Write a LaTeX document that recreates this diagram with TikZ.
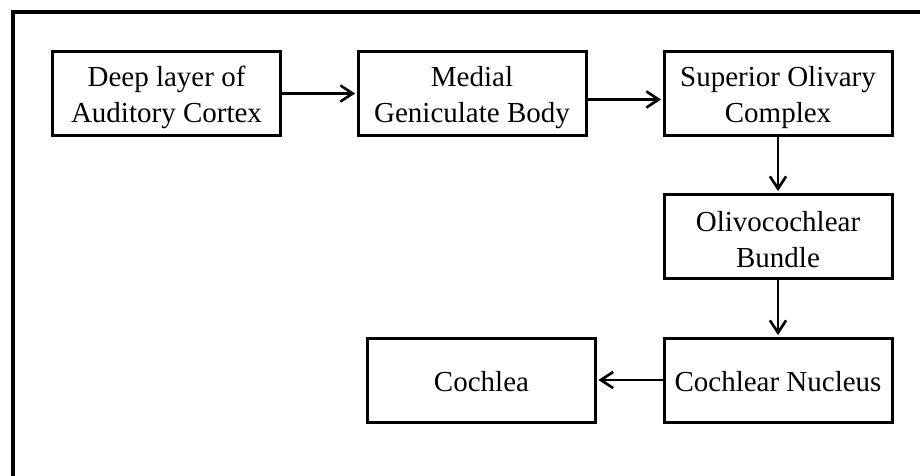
\documentclass[tikz,border=0pt]{standalone}
\usepackage{fontspec}
\setmainfont{Liberation Serif}
\begin{document}
\begin{tikzpicture}[x=1pt,y=1pt,
  stagebox/.style={draw=black, line width=3pt, fill=white, minimum width=228pt, minimum height=84pt,
    inner sep=0pt},
  stagetext/.style={align=center, inner sep=0pt, font=\fontsize{29}{36}\selectfont},
  barbhead/.pic={\fill[black] (0,-1.6) -- (-9.2,12.5) -- (-7,13.8) -- (0,3.4) -- (7,13.8) -- (9.2,12.5) -- cycle;}]
\useasboundingbox (0,-476) rectangle (920,0);
\clip (0,-476) rectangle (920,0);
\fill[white] (0,-476) rectangle (920,0);
\draw[line width=4pt] (13,-12) rectangle (940,-500);
\node[stagebox, label={[stagetext, yshift=-4pt]center:Deep layer of\\Auditory Cortex}] (b1) at (166.5,-93.5) {};
\node[stagebox, label={[stagetext, yshift=-4pt]center:Medial\\Geniculate Body}] (b2) at (472,-93.5) {};
\node[stagebox, label={[stagetext, yshift=-4pt]center:Superior Olivary\\Complex}] (b3) at (778,-93.5) {};
\node[stagebox, label={[stagetext, yshift=-4pt]center:Olivocochlear\\Bundle}] (b4) at (778,-236) {};
\node[stagebox, label={[stagetext, yshift=-2pt]center:Cochlear Nucleus}] (b5) at (778,-380) {};
\node[stagebox, label={[stagetext, yshift=-2pt]center:Cochlea}] (b6) at (481.5,-380) {};
% connectors (filled shafts and barbed heads)
\fill[black] ([yshift=1.4pt]b1.east) rectangle ([xshift=-5pt,yshift=-1.4pt]b2.west);
\pic[rotate=90] at ([xshift=-3pt]b2.west) {barbhead};
\fill[black] ([yshift=-4.6pt]b2.east) rectangle ([xshift=-5pt,yshift=-7.4pt]b3.west);
\pic[rotate=90] at ([xshift=-3pt,yshift=-6pt]b3.west) {barbhead};
\fill[black] ([xshift=-1.4pt]b3.south) rectangle ([xshift=1.4pt,yshift=5pt]b4.north);
\pic at ([yshift=3pt]b4.north) {barbhead};
\fill[black] ([xshift=-1.4pt]b4.south) rectangle ([xshift=1.4pt,yshift=5pt]b5.north);
\pic at ([yshift=3pt]b5.north) {barbhead};
\fill[black] ([yshift=1.4pt]b5.west) rectangle ([xshift=5pt,yshift=-1.4pt]b6.east);
\pic[rotate=-90] at ([xshift=3pt]b6.east) {barbhead};
\end{tikzpicture}
\end{document}
